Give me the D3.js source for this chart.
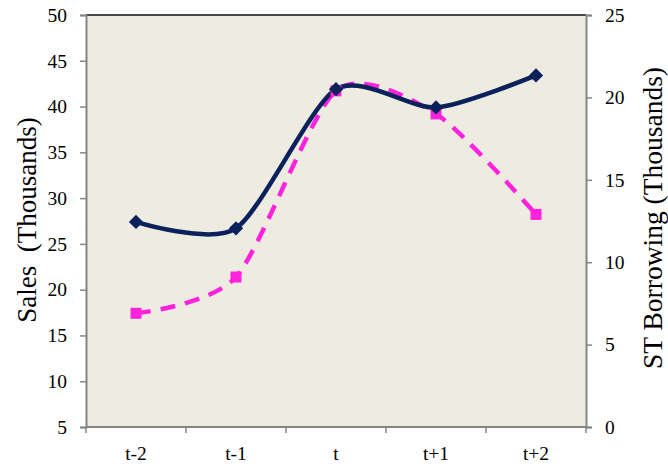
<!DOCTYPE html>
<html>
<head>
<meta charset="utf-8">
<script src="https://cdn.jsdelivr.net/npm/d3@7"></script>
<style>
  body { margin: 0; background: #fff; }
  svg { display: block; }
  svg text { font-family: "Times New Roman", "Liberation Serif", "DejaVu Serif", serif; fill: #000; white-space: pre; }
</style>
</head>
<body>
<svg id="chart" width="668" height="467"></svg>
<script>
// Periods and the two series (thousands)
const periods = ["t-2", "t-1", "t", "t+1", "t+2"];
const sales = [27.4, 26.7, 41.9, 39.9, 43.4];
const borrowing = [6.9, 9.1, 20.4, 19.0, 12.9];
const salesTicks = [5, 10, 15, 20, 25, 30, 35, 40, 45, 50];
const borrowTicks = [0, 5, 10, 15, 20, 25];

(function draw() {
  const svg = d3.select("#chart");
  const plotL = 86, plotR = 586, plotT = 15, plotB = 427;

  const x = d3.scaleBand().domain(periods).range([plotL, plotR]);
  const ySales = d3.scaleLinear().domain([5, 50]).range([plotB, plotT]);
  const yBorrow = d3.scaleLinear().domain([0, 25]).range([plotB, plotT]);

  // plot background
  svg.append("rect")
    .attr("x", plotL).attr("y", plotT)
    .attr("width", plotR - plotL).attr("height", plotB - plotT)
    .attr("fill", "#EEEBE1");

  // top border
  svg.append("line")
    .attr("x1", plotL).attr("x2", plotR).attr("y1", plotT).attr("y2", plotT)
    .attr("stroke", "#111").attr("stroke-width", 1.5);

  const axisColor = "#858585";

  function styleAxis(g) {
    g.attr("font-family", null);
    g.selectAll(".domain").attr("stroke", axisColor).attr("stroke-width", 2);
    g.selectAll(".tick line").attr("stroke", axisColor).attr("stroke-width", 1.5);
    g.selectAll(".tick text").attr("font-size", 19.5).attr("fill", "#000");
  }

  // left axis
  svg.append("g")
    .attr("transform", `translate(${plotL},0)`)
    .call(d3.axisLeft(ySales).tickValues(salesTicks).tickSize(6).tickSizeOuter(6).tickPadding(13))
    .call(styleAxis);

  // right axis
  svg.append("g")
    .attr("transform", `translate(${plotR},0)`)
    .call(d3.axisRight(yBorrow).tickValues(borrowTicks).tickSize(6).tickSizeOuter(6).tickPadding(13))
    .call(styleAxis);

  // bottom axis: ticks on band edges, labels at band centers
  const xAxis = svg.append("g").attr("transform", `translate(0,${plotB})`);
  xAxis.append("line")
    .attr("x1", plotL).attr("x2", plotR)
    .attr("stroke", axisColor).attr("stroke-width", 2);
  const edges = periods.map(p => x(p)).concat([plotR]);
  xAxis.selectAll("line.edge").data(edges).enter().append("line")
    .attr("class", "edge")
    .attr("x1", d => d).attr("x2", d => d)
    .attr("y1", 0).attr("y2", 6)
    .attr("stroke", axisColor).attr("stroke-width", 1.5);
  xAxis.selectAll("text").data(periods).enter().append("text")
    .attr("x", d => x(d) + x.bandwidth() / 2)
    .attr("y", 33)
    .attr("text-anchor", "middle")
    .attr("font-size", 19.5)
    .text(d => d);

  // axis titles
  svg.append("text")
    .attr("transform", "translate(36,220) rotate(-90)")
    .attr("text-anchor", "middle")
    .attr("font-size", 27)
    .text("Sales  (Thousands)");

  svg.append("text")
    .attr("transform", "translate(662,218) rotate(-90)")
    .attr("text-anchor", "middle")
    .attr("font-size", 27.5)
    .text("ST Borrowing (Thousands)");

  const cx = p => x(p) + x.bandwidth() / 2;
  const curve = d3.curveCardinal.tension(0.25);

  // borrowing line (dashed magenta)
  const pink = "#FF22DD";
  svg.append("path")
    .datum(periods.map((p, i) => [cx(p), yBorrow(borrowing[i])]))
    .attr("d", d3.line().curve(curve))
    .attr("fill", "none")
    .attr("stroke", pink)
    .attr("stroke-width", 4.5)
    .attr("stroke-dasharray", "15,10");

  // sales line (navy)
  const navy = "#0A215C";
  svg.append("path")
    .datum(periods.map((p, i) => [cx(p), ySales(sales[i])]))
    .attr("d", d3.line().curve(curve))
    .attr("fill", "none")
    .attr("stroke", navy)
    .attr("stroke-width", 4.5);

  // markers
  svg.selectAll("rect.sq").data(periods).enter().append("rect")
    .attr("class", "sq")
    .attr("x", p => cx(p) - 5.5)
    .attr("y", (p, i) => yBorrow(borrowing[i]) - 5.5)
    .attr("width", 11).attr("height", 11)
    .attr("fill", pink);

  svg.selectAll("path.dia").data(periods).enter().append("path")
    .attr("class", "dia")
    .attr("d", d3.symbol().type(d3.symbolDiamond2).size(130))
    .attr("transform", (p, i) => `translate(${cx(p)},${ySales(sales[i])})`)
    .attr("fill", navy);
})();
</script>
</body>
</html>
